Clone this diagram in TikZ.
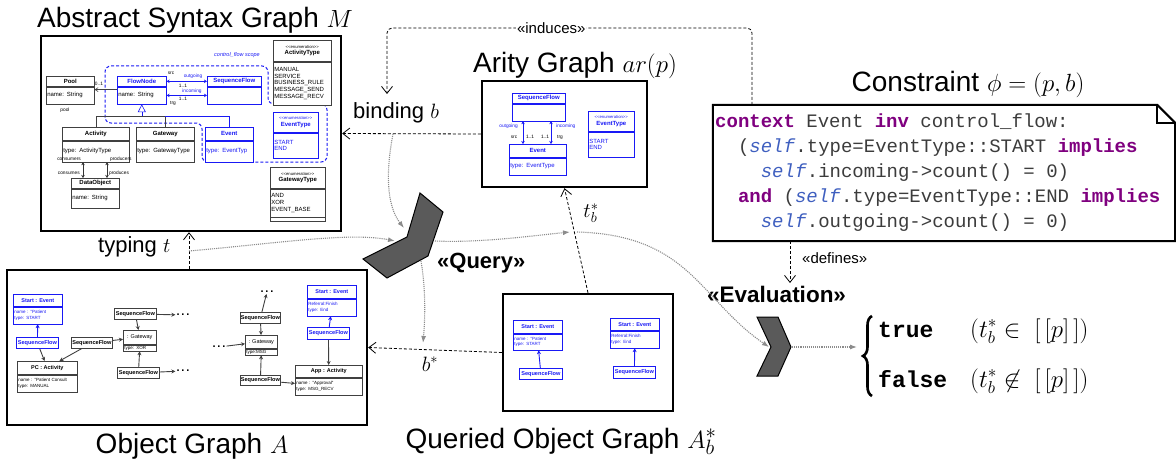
\documentclass[tikz,border=0pt]{standalone}
\usepackage[no-math]{fontspec}
\setmainfont{Liberation Sans}
\setmonofont{Liberation Mono}
\usepackage{tikz}
\usetikzlibrary{positioning}
\usetikzlibrary{arrows.meta,shapes}
\usetikzlibrary{calc,decorations.pathreplacing}
\definecolor{kwcol}{RGB}{127,0,127}
\definecolor{selfcol}{RGB}{63,95,191}
\definecolor{codecol}{RGB}{60,60,60}
\definecolor{umlblue}{RGB}{25,25,245}
\definecolor{chevcol}{RGB}{90,90,90}
\newcommand{\kw}[1]{\textcolor{kwcol}{\textbf{#1}}}
\newcommand{\slf}{\textcolor{selfcol}{\textit{self}}}
\newcommand{\enumhead}{{\fontsize{4.2}{5}\selectfont\mdseries <{}<enumeration>{}>}\\}
\tikzstyle{bigbox}=[draw=black, line width=2.4pt, inner sep=0pt]
\tikzstyle{heading}=[font=\fontsize{28}{32}\selectfont, anchor=base, inner sep=0pt]
\tikzstyle{lbl}=[font=\fontsize{22}{26}\selectfont, anchor=base west, inner sep=0pt]
\tikzstyle{stereo}=[font=\fontsize{15}{18}\selectfont]
\tikzstyle{dep}=[draw, line width=0.8pt, dash pattern=on 3pt off 2pt, -{Straight Barb[length=7pt,width=11pt]}]
\tikzstyle{flow}=[draw=black!45, line width=1.1pt, densely dotted, -{Latex[length=7pt,width=5pt]}]
\tikzstyle{chev}=[draw=black, line width=1pt, fill=chevcol]
\tikzstyle{clshead}=[draw=black!75, line width=0.6pt, fill=white, anchor=north west, inner sep=0.5pt, font=\fontsize{6}{6.5}\selectfont\bfseries, align=center]
\tikzstyle{clsbody}=[draw=black!75, line width=0.6pt, fill=white, inner sep=1pt, font=\fontsize{6}{6.8}\selectfont, align=left]
\tikzstyle{objbody}=[clsbody, font=\fontsize{4.5}{5.5}\selectfont]
\tikzstyle{bluebox}=[draw=umlblue, text=umlblue]
\tikzstyle{blackbox}=[]
\tikzstyle{sfbox}=[draw=black!75, line width=0.8pt, fill=white, anchor=north west, inner sep=0pt, font=\fontsize{5.6}{6}\selectfont\bfseries]
\tikzstyle{link}=[draw=black!75, line width=0.9pt, -{Stealth[length=4pt,width=4pt]}]
\tikzstyle{assoc}=[line width=0.8pt, {Stealth[length=3pt,width=3.5pt]}-{Stealth[length=3pt,width=3.5pt]}]
\tikzstyle{smalltxt}=[font=\fontsize{4.8}{5}\selectfont, inner sep=0pt]
\tikzstyle{dotnode}=[font=\fontsize{11}{11}\selectfont\bfseries, inner sep=1pt]
\tikzstyle{resval}=[anchor=base west, inner sep=0pt, font=\fontsize{23}{27}\selectfont\ttfamily\bfseries]
\tikzstyle{rescond}=[anchor=base west, inner sep=0pt, font=\fontsize{25}{29}\selectfont]
\tikzset{code/.style={anchor=base west, inner sep=0pt, text=codecol, font=\fontsize{19}{25}\selectfont\ttfamily}}

\begin{document}
\begin{tikzpicture}[x=1pt, y=-1pt]
  \useasboundingbox (0,0) rectangle (1176,460);

  % frames
  \node[bigbox, minimum width=300pt, minimum height=195pt] (asg) at (191,133.5) {};
  \node[bigbox, minimum width=165pt, minimum height=106pt] (arity) at (564.5,134) {};
  \node[bigbox, minimum width=360pt, minimum height=155pt] (objg) at (187,347.5) {};
  \node[bigbox, minimum width=170pt, minimum height=117pt] (qobj) at (588,352.5) {};
  \node[minimum width=462pt, minimum height=136pt, inner sep=0pt] (cons) at (944,173) {};
  \draw[line width=2pt] (cons.north west) -- ($(cons.north east)+(-18,0)$) -- ($(cons.north east)+(0,18)$) -- (cons.south east) -- (cons.south west) -- cycle;
  \draw[line width=1.5pt] ($(cons.north east)+(-18,0)$) |- ($(cons.north east)+(0,18)$);

  % titles
  \node[heading] (asgtitle) at (195,28) {Abstract Syntax Graph $M$};
  \node[heading] (aritytitle) at (575,73) {Arity Graph $ar(p)$};
  \node[heading] (constitle) at (968,92) {Constraint $\phi=(p,b)$};
  \node[heading] (objtitle) at (192,453) {Object Graph $A$};
  \node[heading] (qtitle) at (561,448) {Queried Object Graph $A_b^*$};

  % control_flow scope
  \draw[draw=umlblue, line width=1pt, dash pattern=on 3pt off 2pt, rounded corners=6pt]
    (105,66) -- (268,66) -- (268,104) -- (327,104) -- (327,162) -- (202,162) -- (202,123) -- (105,123) -- cycle;
  \node[smalltxt, text=umlblue, font=\fontsize{5.5}{6}\selectfont\itshape] (scopelbl) at (237,55) {control\_flow scope};

  % metamodel classes
  \foreach \name/\x/\y/\w/\hh/\bh/\st/\head/\body in {
      pool/46/76/48/10/17/blackbox/Pool/{name: String},
      flownode/117/76/49/10/17/bluebox/FlowNode/{\color{black}name: String},
      seqflow/207/76/54/10/17/bluebox/SequenceFlow/{},
      activity/62/127/67/13/21/blackbox/Activity/{type: ActivityType},
      gateway/136/127/58/13/21/blackbox/Gateway/{type: GatewayType},
      event/205/127/48/13/21/bluebox/Event/{type: EventTyp},
      dataobj/71/178/48/10/19/blackbox/DataObject/{name: String},
      acttype/273/40/58/21/43/blackbox/{\enumhead ActivityType}/{MANUAL\\SERVICE\\BUSINESS\_RULE\\MESSAGE\_SEND\\MESSAGE\_RECV},
      evtype/273/112/45/20/25/bluebox/{\enumhead EventType}/{START\\END},
      gwtype/270/167/55/21/28/blackbox/{\enumhead GatewayType}/{AND\\XOR\\EVENT\_BASE},
      aseq/512/93/53/10/17/bluebox/SequenceFlow/{},
      aevent/509/144/57/13/17/bluebox/Event/{type: EventType},
      aevtype/588/111/46/20/25/bluebox/{\enumhead EventType}/{START\\END}}
  {
    \pgfmathsetmacro\tw{\w-2}
    \node[clshead, \st, minimum width=\w, minimum height=\hh] (\name) at (\x,\y) {\head};
    \node[clsbody, \st, minimum width=\w, minimum height=\bh, text width=\tw pt, below=0pt of \name] (\name-body) {\body};
  }
  \node[clsbody, minimum width=55pt, minimum height=4pt, inner sep=0pt, below=0pt of gwtype-body] (gwtype-extra) {};

  % metamodel edges
  \coordinate (genbar) at (0,116);
  \draw[black!75, line width=0.6pt] (activity.north) |- (gateway.north |- genbar) -- (gateway.north);
  \draw[umlblue, line width=0.6pt] (gateway.north |- genbar) -| (event.north);
  \draw[umlblue, line width=0.6pt, -{Triangle[open,length=8pt,width=8pt]}] (flownode-body.south |- genbar) -- (flownode-body.south);
  \draw[black!75, line width=0.6pt, -{Straight Barb[length=3pt,width=4pt]}] ($(flownode.south west)+(0,3)$) -- ($(pool.south east)+(0,3)$);
  \draw[assoc, umlblue] (flownode.east) -- (seqflow.west);
  \draw[assoc, umlblue] (flownode-body.east) -- (seqflow-body.west);
  \draw[assoc, black!80] ($(activity-body.south west)+(21,0)$) -- ($(dataobj.north west)+(12,0)$);
  \draw[assoc, black!80] ($(activity-body.south west)+(45,0)$) -- ($(dataobj.north west)+(36,0)$);
  \draw[assoc, umlblue] ($(aseq-body.south west)+(11,0)$) -- ($(aevent.north west)+(14,0)$);
  \draw[assoc, umlblue] ($(aseq-body.south west)+(39,0)$) -- ($(aevent.north west)+(42,0)$);

  \node[smalltxt] (pooltxt) at (65,110) {pool};
  \node[smalltxt] (mult0) at (99,84) {0..1};
  \node[smalltxt] (srctxt) at (171,73) {src};
  \node[smalltxt] (trgtxt) at (173,103) {trg};
  \node[smalltxt] (multa) at (183,86) {1..1};
  \node[smalltxt] (multb) at (183,99) {1..1};
  \node[smalltxt, text=umlblue] (outtxt) at (193,76) {outgoing};
  \node[smalltxt, text=umlblue] (intxt) at (192,91) {incoming};
  \node[smalltxt, anchor=east] (consrs) at (81,159) {consumers};
  \node[smalltxt, anchor=east] (conss) at (80,173) {consumes};
  \node[smalltxt, anchor=west] (prodrs) at (110,159) {producers};
  \node[smalltxt, anchor=west] (prods) at (109,173) {produces};
  \node[smalltxt, text=umlblue, anchor=east] (aouttxt) at (518,126) {outgoing};
  \node[smalltxt, text=umlblue, anchor=west] (aintxt) at (556,126) {incoming};
  \node[smalltxt] (asrc) at (514,137) {src};
  \node[smalltxt] (amulta) at (530,137) {1..1};
  \node[smalltxt] (amultb) at (545,137) {1..1};
  \node[smalltxt] (atrg) at (560,137) {trg};

  % object graphs
  \foreach \name/\x/\y/\w/\hh/\bh/\st/\head/\body in {
      ostart/13/294/49/12/17/bluebox/{Start : Event}/{name : "Patient\\type: START},
      opc/17/361/60/13/17/blackbox/{PC : Activity}/{name : "Patient Consult\\type: MANUAL},
      ogwa/123/330/33/14/5/blackbox/{\mdseries : Gateway}/{type: XOR},
      ogwb/245/335/32/13/6/blackbox/{\mdseries : Gateway}/{type:MSG},
      oapp/295/365/67/12/17/blackbox/{App : Activity}/{name : "Approval"\\type: MSG\_RECV},
      oend/307/285/49/13/17/bluebox/{Start : Event}/{Referral:Finish\\type: End},
      qstart/513/320/49/13/16/bluebox/{Start : Event}/{name : "Patient\\type: START},
      qend/610/318/49/12/17/bluebox/{Start : Event}/{Referral:Finish\\type: End}}
  {
    \pgfmathsetmacro\tw{\w-2}
    \node[clshead, \st, minimum width=\w, minimum height=\hh, font=\fontsize{5.5}{6}\selectfont\bfseries] (\name) at (\x,\y) {\head};
    \node[objbody, \st, minimum width=\w, minimum height=\bh, text width=\tw pt, below=0pt of \name] (\name-body) {\body};
  }

  \foreach \name/\x/\y/\w/\h/\st in {osfa/16/337/42/11/bluebox, osfb/71/337/41/11/blackbox, osfc/114/308/42/11/blackbox,
      osfd/117/367/42/11/blackbox, osfe/240/312/40/11/blackbox, osff/240/375/40/10/blackbox, osfg/307/327/42/12/bluebox,
      qsfa/519/368/43/11/bluebox, qsfb/613/366/42/12/bluebox}
    \node[sfbox, \st, minimum width=\w, minimum height=\h] (\name) at (\x,\y) {SequenceFlow};

  \foreach \name/\x/\y in {dotsa/183/315, dotsb/183/371, dotsc/219/347, dotsd/267/292}
    \node[dotnode] (\name) at (\x,\y) {.\,.\,.};

  \foreach \a/\b/\c in {osfa/ostart-body/umlblue, osfa/opc/black!75, osfb/opc/black!75, osfb/ogwa/black!75,
      osfc/dotsa/black!75, osfc/ogwa/black!75, osfd/ogwa-body/black!75, osfd/dotsb/black!75, dotsc/ogwb/black!75,
      osfe/dotsd/black!75, osfe/ogwb/black!75, osff/ogwb-body/black!75, osff/oapp-body/black!75, osfg/oapp/black!75,
      osfg/oend-body/umlblue, qsfa/qstart-body/umlblue, qsfb/qend-body/umlblue}
    \draw[link, draw=\c] (\a) -- (\b);

  % constraint text
  \foreach \i/\ind/\ln in {0/0/{\kw{context} Event \kw{inv} control\_flow:},
      1/2/{(\slf.type=EventType::START \kw{implies}},
      2/4/{\slf.incoming->count() = 0)},
      3/2/{\kw{and} (\slf.type=EventType::END \kw{implies}},
      4/4/{\slf.outgoing->count() = 0)}}
    \node[code] (code\i) at (715+11.4*\ind, 127+25*\i) {\ln};

  % chevrons
  \draw[chev] (363,259) -- (387,278) -- (428,256) -- (443,212) -- (420,193) -- (407,237) -- cycle;
  \draw[chev] (757,317) -- (778,317) -- (791,347) -- (778,376) -- (757,376) -- (771,347) -- cycle;
  \coordinate (qinA) at (404,228);
  \coordinate (qinB) at (395,241);
  \coordinate (qout) at (435,241);
  \coordinate (qdown) at (421,261);
  \coordinate (evin) at (769,347);
  \coordinate (evout) at (792,347);

  % labels
  \node[lbl] (bind) at (353,118) {binding $b$};
  \node[lbl] (typ) at (98,252) {typing $t$};
  \node[lbl, font=\fontsize{22}{26}\selectfont\bfseries] (qlbl) at (437,268) {«Query»};
  \node[lbl, font=\fontsize{22.5}{26}\selectfont\bfseries] (evlbl) at (707,302) {«Evaluation»};
  \node[font=\fontsize{22}{26}\selectfont, inner sep=0pt] (tbs) at (591,213) {$t_b^*$};
  \node[font=\fontsize{22}{26}\selectfont, inner sep=0pt] (bs) at (430,364) {$b^*$};
  \node[stereo, anchor=base west, inner sep=0pt] (deflbl) at (802,263) {«defines»};

  % result with brace
  \draw[line width=2.6pt, decorate, decoration={brace, amplitude=9pt, aspect=0.5}] (872,396) -- (872,316);
  \coordinate (brtip) at (857,347);
  \node[resval] (restrue) at (878,337) {true};
  \node[resval] (resfalse) at (878,387) {false};
  \node[rescond] (condtrue) at (970,337) {$(t_b^*\in\ [\,[p]\,])$};
  \node[rescond] (condfalse) at (970,387) {$(t_b^*\not\in\ [\,[p]\,])$};

  % dependencies
  \coordinate (tyx) at (189,0);
  \coordinate (indR) at (752,28);
  \coordinate (indL) at (387,28);
  \coordinate (indE) at (387,94);
  \coordinate (defE) at (790,283);
  \draw[dep] (arity.west) -- (asg.east);
  \draw[dep] (objg.north -| tyx) -- (asg.south -| tyx);
  \draw[dep] (qobj.north) -- (arity.south);
  \draw[dep] (qobj.west) -- (objg.east);
  \draw[dep] (cons.south -| defE) -- (defE);
  \draw[dep, rounded corners=5pt] (cons.north -| indR) -- (indR) -- node[stereo, fill=white, inner sep=1pt, pos=0.55] (ind) {«induces»} (indL) -- (indE);

  % data flow
  \coordinate (bl) at (393,134);
  \coordinate (tl) at (189,251);
  \coordinate (tq) at (570,232);
  \coordinate (tq2) at (577,232);
  \draw[flow] (bl) .. controls (386,170) and (386,205) .. (qinA);
  \draw[flow] (tl) .. controls (280,243) and (350,232) .. (qinB);
  \draw[flow] (qout) .. controls (480,243) and (530,236) .. (tq);
  \draw[flow] (tq2) .. controls (690,235) and (700,300) .. (evin);
  \draw[flow] (qdown) .. controls (426,290) and (425,320) .. (423,343);
  \draw[flow] (evout) -- (brtip);

\end{tikzpicture}
\end{document}
